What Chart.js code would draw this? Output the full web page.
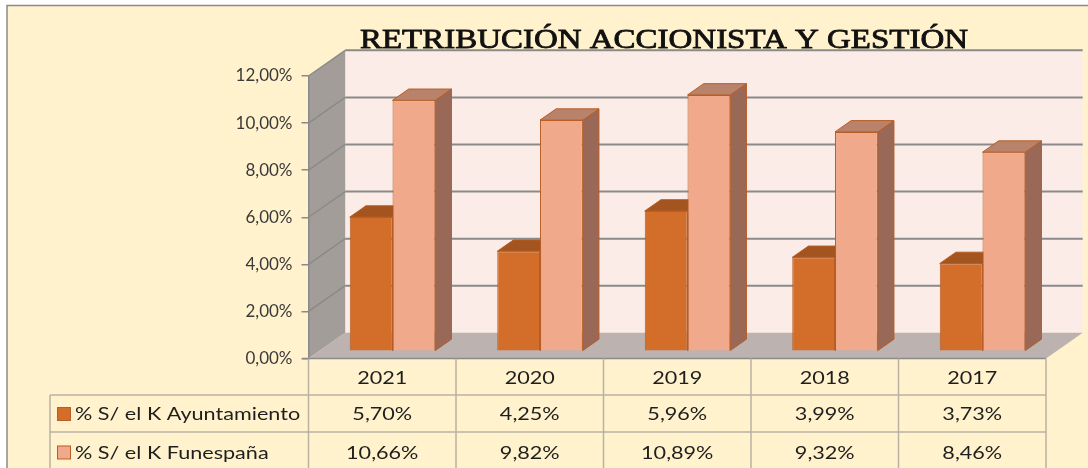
<!DOCTYPE html>
<html>
<head>
<meta charset="utf-8">
<script src="https://cdn.jsdelivr.net/npm/chart.js@4.4.1/dist/chart.umd.min.js"></script>
<style>
  html, body { margin: 0; padding: 0; background: #fff; }
  #wrap { position: relative; width: 1088px; height: 468px; }
</style>
</head>
<body>
<div id="wrap"><canvas id="chart" width="1088" height="468"></canvas></div>
<script>
// ── Data ──────────────────────────────────────────────────────────────────────
const years        = ["2021", "2020", "2019", "2018", "2017"];
const ayuntamiento = [5.70, 4.25, 5.96, 3.99, 3.73];
const funespana    = [10.66, 9.82, 10.89, 9.32, 8.46];
const seriesNames  = ["% S/ el K Ayuntamiento", "% S/ el K Funespaña"];
const yMax = 12, yStep = 2;
const chartTitle = "RETRIBUCIÓN ACCIONISTA Y GESTIÓN";

// ── Look ──────────────────────────────────────────────────────────────────────
const DEPTH = { x: 36.7, y: -25.7 };   // full depth of the 3d box
const BAR_FRONT = 0.28, BAR_BACK = 0.72; // bars sit in the middle of the depth
const colors = {
  bg: "#FFF2CC", wall: "#FBECE7", side: "#A39D9A", floor: "#BCB3B0",
  grid: "#8A8A8A", text: "#1E1E1E", axisText: "#3A3A3A", cell: "#B9B2A4",
  outline: "#B85E26"
};
const barStyle = [
  { front: "#D26D2A", top: "#A3541F", side: "#8C481C" },
  { front: "#F1A98B", top: "#B9826B", side: "#9A6857" }
];
const TEXT_STRETCH = 1.2; // table text in the picture is drawn wide

const pct = v => v.toFixed(2).replace(".", ",") + "%";
const font = "Lato, 'Open Sans', sans-serif";

function poly(ctx, pts, fill, stroke, lw) {
  ctx.beginPath();
  pts.forEach(([px, py], i) => i ? ctx.lineTo(px, py) : ctx.moveTo(px, py));
  ctx.closePath();
  if (fill) { ctx.fillStyle = fill; ctx.fill(); }
  if (stroke) { ctx.strokeStyle = stroke; ctx.lineWidth = lw || 1; ctx.stroke(); }
}

function wideText(ctx, txt, px, py) {
  ctx.save();
  ctx.translate(px, py);
  ctx.scale(TEXT_STRETCH, 1);
  ctx.fillText(txt, 0, 0);
  ctx.restore();
}

// ── Walls, floor and gridlines of the 3d box ──────────────────────────────────
const scene3d = {
  id: "scene3d",
  beforeDraw(chart) {
    const { ctx, chartArea: a, scales: { y } } = chart;
    ctx.save();
    ctx.fillStyle = colors.bg;
    ctx.fillRect(7, 5.5, 1100, 480);
    ctx.strokeStyle = "#8A8A8A"; ctx.lineWidth = 1.5;
    ctx.beginPath(); ctx.moveTo(7, 480); ctx.lineTo(7, 5.5); ctx.lineTo(1100, 5.5); ctx.stroke();

    const y0 = y.getPixelForValue(0), yT = y.getPixelForValue(yMax);
    const dx = DEPTH.x, dy = DEPTH.y;
    ctx.fillStyle = colors.wall;
    ctx.fillRect(a.left + dx, yT + dy, a.right - a.left, y0 - yT);
    poly(ctx, [[a.left, yT], [a.left + dx, yT + dy], [a.left + dx, y0 + dy], [a.left, y0]], colors.side);
    poly(ctx, [[a.left, y0], [a.left + dx, y0 + dy], [a.right + dx, y0 + dy], [a.right, y0]], colors.floor);

    y.ticks.forEach(t => {
      if (t.value === 0) return;
      const py = y.getPixelForValue(t.value);
      ctx.strokeStyle = colors.grid; ctx.lineWidth = 1.5;
      ctx.beginPath(); ctx.moveTo(a.left, py); ctx.lineTo(a.left + dx, py + dy); ctx.stroke();
      ctx.lineWidth = 2;
      ctx.beginPath(); ctx.moveTo(a.left + dx, py + dy); ctx.lineTo(a.right + dx, py + dy); ctx.stroke();
    });
    // front floor edge
    ctx.strokeStyle = colors.grid; ctx.lineWidth = 1.5;
    ctx.beginPath(); ctx.moveTo(a.left - 6, y0); ctx.lineTo(a.right, y0); ctx.stroke();
    ctx.restore();
  },

  // top and side faces first, then the fronts are drawn over them
  beforeDatasetsDraw(chart) {
    const { ctx } = chart;
    const ox = DEPTH.x * BAR_FRONT, oy = DEPTH.y * BAR_FRONT;
    const bx = DEPTH.x * (BAR_BACK - BAR_FRONT), by = DEPTH.y * (BAR_BACK - BAR_FRONT);
    ctx.save();
    ctx.translate(ox, oy);
    years.forEach((_, i) => {
      [0, 1].forEach(d => {
        const bar = chart.getDatasetMeta(d).data[i];
        const l = bar.x - bar.width / 2, r = bar.x + bar.width / 2;
        const st = barStyle[d];
        poly(ctx, [[r, bar.y], [r + bx, bar.y + by], [r + bx, bar.base + by], [r, bar.base]], st.side, colors.outline, 1);
        poly(ctx, [[l, bar.y], [r, bar.y], [r + bx, bar.y + by], [l + bx, bar.y + by]], st.top, colors.outline, 1);
      });
    });
    ctx.restore();
    ctx.save();
    ctx.translate(ox, oy);
  },
  afterDatasetsDraw(chart) {
    chart.ctx.restore();
  },

  // title and data table
  afterDraw(chart) {
    const { ctx, chartArea: a, scales: { x } } = chart;
    ctx.save();

    ctx.font = "28px 'Liberation Serif', 'DejaVu Serif', serif";
    ctx.fillStyle = "#111";
    ctx.strokeStyle = "#111"; ctx.lineWidth = 0.8;
    ctx.textAlign = "center"; ctx.textBaseline = "alphabetic";
    const w = ctx.measureText(chartTitle).width;
    ctx.translate(664, 48);
    ctx.scale(608 / w, 1);
    ctx.fillText(chartTitle, 0, 0);
    ctx.strokeText(chartTitle, 0, 0);
    ctx.setTransform(1, 0, 0, 1, 0, 0);

    const colW = (a.right - a.left) / years.length;
    const rows = [a.bottom, 395, 432, 472];
    const legendLeft = 50;
    ctx.strokeStyle = colors.cell; ctx.lineWidth = 1.5;
    ctx.beginPath();
    for (let c = 0; c <= years.length; c++) {
      const cx = a.left + c * colW;
      ctx.moveTo(cx, rows[0]); ctx.lineTo(cx, rows[3]);
    }
    ctx.moveTo(legendLeft, rows[1]); ctx.lineTo(legendLeft, rows[3]);
    ctx.moveTo(legendLeft, rows[1]); ctx.lineTo(a.right, rows[1]);
    ctx.moveTo(legendLeft, rows[2]); ctx.lineTo(a.right, rows[2]);
    ctx.stroke();

    ctx.font = "18px " + font;
    ctx.fillStyle = colors.text;
    ctx.textAlign = "center"; ctx.textBaseline = "middle";
    const mid = r => (rows[r] + rows[r + 1]) / 2 + 1;
    years.forEach((yr, i) => {
      const cx = x.getPixelForValue(i);
      wideText(ctx, yr, cx, mid(0));
      wideText(ctx, pct(ayuntamiento[i]), cx, mid(1));
      wideText(ctx, pct(funespana[i]), cx, mid(2));
    });

    ctx.textAlign = "left";
    seriesNames.forEach((name, s) => {
      const cy = mid(s + 1);
      ctx.fillStyle = barStyle[s].front;
      ctx.fillRect(57.5, cy - 7, 13, 13);
      ctx.strokeStyle = colors.outline; ctx.lineWidth = 1;
      ctx.strokeRect(57.5, cy - 7, 13, 13);
      ctx.fillStyle = colors.text;
      wideText(ctx, name, 75, cy);
    });
    ctx.restore();
  }
};

// ── Chart ─────────────────────────────────────────────────────────────────────
new Chart(document.getElementById("chart"), {
  type: "bar",
  data: {
    labels: years,
    datasets: [
      { label: seriesNames[0], data: ayuntamiento, backgroundColor: barStyle[0].front,
        borderColor: colors.outline, borderWidth: 1, clip: false },
      { label: seriesNames[1], data: funespana, backgroundColor: barStyle[1].front,
        borderColor: colors.outline, borderWidth: 1, clip: false }
    ]
  },
  options: {
    responsive: false,
    animation: false,
    devicePixelRatio: 1,
    layout: { padding: { top: 76, right: 42, bottom: 109.5, left: 0 } },
    datasets: { bar: { categoryPercentage: 0.58, barPercentage: 1 } },
    plugins: { legend: { display: false }, tooltip: { enabled: false }, title: { display: false } },
    scales: {
      x: { display: false, offset: true, grid: { display: false } },
      y: {
        min: 0, max: yMax,
        afterFit: s => { s.width = 308.5; },
        ticks: { stepSize: yStep, callback: v => pct(v), color: colors.axisText,
                 font: { family: font, size: 17 }, padding: 9 },
        grid: { drawOnChartArea: false, drawTicks: true, tickLength: 7, color: colors.grid, lineWidth: 1.5 },
        border: { display: true, color: colors.grid, width: 1.5 }
      }
    }
  },
  plugins: [scene3d]
});
</script>
</body>
</html>
